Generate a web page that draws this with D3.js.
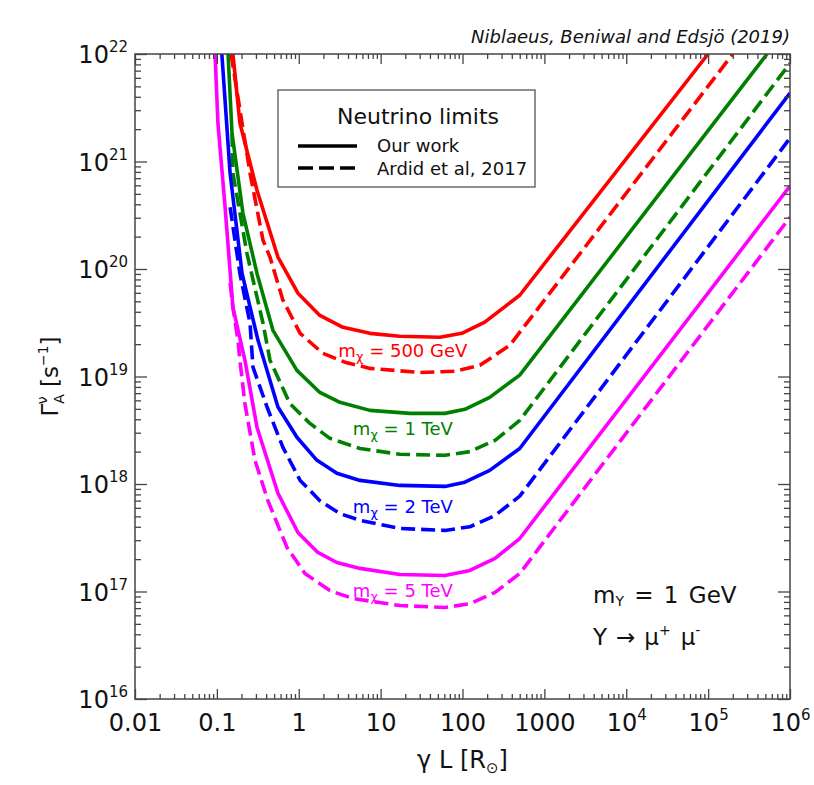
<!DOCTYPE html>
<html><head><meta charset="utf-8">
<script src="https://cdn.jsdelivr.net/npm/d3@7"></script>
<style>
body{margin:0;background:#fff}
svg{display:block}
text{font-family:"DejaVu Sans",Verdana,sans-serif;fill:#111}
</style>
</head><body>
<svg id="chart" width="814" height="785"></svg>
<script>
// ---------------- data ----------------
const xMajorTicks = [1e-2, 1e-1, 1, 10, 100, 1000, 1e4, 1e5, 1e6];
const xTickLabels = ["0.01", "0.1", "1", "10", "100", "1000", "10|4", "10|5", "10|6"];
const yMajorTicks = [1e16, 1e17, 1e18, 1e19, 1e20, 1e21, 1e22];
const yTickLabels = ["10|16", "10|17", "10|18", "10|19", "10|20", "10|21", "10|22"];

// [gamma L (R_sun), Gamma_A (s^-1)]
const redSolid = [[0.157,1e22],[0.191,2.28e21],[0.309,5.4e20],[0.557,1.29e20],[0.977,5.96e19],[1.81,3.7e19],[3.47,2.87e19],[7.4,2.52e19],[17,2.37e19],[53,2.32e19],[98,2.52e19],[187,3.2e19],[500,5.7e19],[1e5,1e22]];
const redDashed = [[0.149,1e22],[0.254,7.8e20],[0.366,1.85e20],[0.445,1.29e20],[0.641,5.13e19],[1.04,2.52e19],[1.97,1.64e19],[3.66,1.36e19],[7.4,1.19e19],[30,1.09e19],[81,1.12e19],[163,1.27e19],[378,1.95e19],[2e5,1e22]];
const greenSolid = [[0.137,1e22],[0.153,1.84e21],[0.208,3.31e20],[0.309,9.1e19],[0.484,2.69e19],[0.95,1.14e19],[1.81,7.1e18],[3.18,5.75e18],[7.4,4.84e18],[22.8,4.54e18],[61,4.54e18],[107,4.95e18],[215,6.4e18],[500,1.03e19],[5.25e5,1e22]];
const greenDashed = [[0.153,1.84e21],[0.157,7.8e20],[0.233,1.4e20],[0.366,3.13e19],[0.445,1.42e19],[0.78,5.6e18],[1.37,3.66e18],[2.4,2.66e18],[5.6,2.14e18],[17.2,1.89e18],[61,1.85e18],[123,2.0e18],[250,2.55e18],[500,3.9e18],[1e6,8.2e21]];
const blueSolid = [[0.115,1e22],[0.145,7.8e20],[0.203,9.1e19],[0.318,2.17e19],[0.557,5.2e18],[0.95,2.72e18],[1.67,1.66e18],[2.92,1.26e18],[5.6,1.08e18],[17.2,9.7e17],[61,9.5e17],[107,1.04e18],[215,1.34e18],[500,2.14e18],[1e6,4.34e21]];
const blueDashed = [[0.145,3.76e20],[0.191,9.1e19],[0.254,3.13e19],[0.276,1.22e19],[0.41,5.2e18],[0.641,2.19e18],[1.04,1.08e18],[1.81,7.0e17],[3.18,5.3e17],[5.6,4.6e17],[17.2,3.86e17],[61,3.7e17],[123,4.0e17],[250,5.1e17],[500,7.7e17],[1e6,1.65e21]];
const magentaSolid = [[0.095,1e22],[0.103,2.28e21],[0.126,3.76e20],[0.157,4.4e19],[0.22,1.42e19],[0.309,3.37e18],[0.557,8.2e17],[0.977,3.54e17],[1.71,2.31e17],[2.92,1.86e17],[5.6,1.64e17],[17.2,1.44e17],[61,1.41e17],[123,1.57e17],[250,2.03e17],[500,3.11e17],[1e6,5.9e20]];
const magentaDashed = [[0.145,7.4e19],[0.157,4.4e19],[0.181,2.17e19],[0.191,1.42e19],[0.22,5.6e18],[0.292,1.66e18],[0.42,7.0e17],[0.718,2.57e17],[1.19,1.47e17],[2.4,1.02e17],[4.6,8.6e16],[17.2,7.4e16],[61,7.1e16],[123,7.7e16],[250,9.8e16],[500,1.47e17],[1e6,3.03e20]];

const massLabels = ["500 GeV", "1 TeV", "2 TeV", "5 TeV"];
const massColors = ["#ff0000", "#008000", "#0000ff", "#ff00ff"];
const labelAnchors = [[18.7, 1.51e19], [18.7, 2.84e18], [18.7, 5.32e17], [18.7, 8.8e16]];

const series = [
  {data: redSolid, color: massColors[0], dashed: false},
  {data: redDashed, color: massColors[0], dashed: true},
  {data: greenSolid, color: massColors[1], dashed: false},
  {data: greenDashed, color: massColors[1], dashed: true},
  {data: blueSolid, color: massColors[2], dashed: false},
  {data: blueDashed, color: massColors[2], dashed: true},
  {data: magentaSolid, color: massColors[3], dashed: false},
  {data: magentaDashed, color: massColors[3], dashed: true}
];

// ---------------- layout ----------------
const svg = d3.select("#chart");
const L = 135, R = 790, T = 54, B = 699;
const x = d3.scaleLog().domain([1e-2, 1e6]).range([L, R]);
const y = d3.scaleLog().domain([1e16, 1e22]).range([B, T]);
const axisColor = "#444";

function minors(lo, hi) {
  const out = [];
  for (let k = lo; k < hi; k++) for (let m = 2; m <= 9; m++) out.push(m * Math.pow(10, k));
  return out;
}
const xMinor = minors(-2, 6);
const yMinor = minors(16, 22);

svg.append("defs").append("clipPath").attr("id", "clip")
  .append("rect").attr("x", L).attr("y", T).attr("width", R - L).attr("height", B - T);

// curves
const line = d3.line().x(d => x(d[0])).y(d => y(d[1]));
svg.append("g").attr("clip-path", "url(#clip)")
  .selectAll("path").data(series).join("path")
  .attr("d", d => line(d.data))
  .attr("fill", "none")
  .attr("stroke", d => d.color)
  .attr("stroke-width", 3.6)
  .attr("stroke-linejoin", "round")
  .attr("stroke-dasharray", d => d.dashed ? "14,6" : null);

// axes
function styleAxis(g) {
  g.select(".domain").remove();
  g.selectAll(".tick line").attr("stroke", axisColor).attr("stroke-width", 1.3);
}
svg.append("g").attr("transform", `translate(0,${B})`)
  .call(d3.axisBottom(x).tickValues(xMinor).tickSize(-5).tickFormat(() => "")).call(styleAxis);
svg.append("g").attr("transform", `translate(0,${T})`)
  .call(d3.axisTop(x).tickValues(xMinor).tickSize(-5).tickFormat(() => "")).call(styleAxis);
svg.append("g").attr("transform", `translate(0,${T})`)
  .call(d3.axisTop(x).tickValues(xMajorTicks).tickSize(-10).tickFormat(() => "")).call(styleAxis);
svg.append("g").attr("transform", `translate(${L},0)`)
  .call(d3.axisLeft(y).tickValues(yMinor).tickSize(-6).tickFormat(() => "")).call(styleAxis);
svg.append("g").attr("transform", `translate(${R},0)`)
  .call(d3.axisRight(y).tickValues(yMinor).tickSize(-6).tickFormat(() => "")).call(styleAxis);
svg.append("g").attr("transform", `translate(${R},0)`)
  .call(d3.axisRight(y).tickValues(yMajorTicks).tickSize(-12).tickFormat(() => "")).call(styleAxis);

function supLabel(sel, lab, supSize, supDy) {
  sel.text(null);
  const parts = lab.split("|");
  sel.append("tspan").text(parts[0]);
  if (parts[1]) sel.append("tspan").attr("dy", supDy).style("font-size", supSize).text(parts[1]);
}

const gx = svg.append("g").attr("transform", `translate(0,${B})`)
  .call(d3.axisBottom(x).tickValues(xMajorTicks).tickSize(-10).tickPadding(15)
    .tickFormat((d, i) => xTickLabels[i]));
styleAxis(gx);
gx.selectAll(".tick text").style("font-size", "24px").attr("fill", "#111").attr("dy", "0.71em")
  .each(function(d, i) { supLabel(d3.select(this), xTickLabels[i], "15px", -11); });

const gy = svg.append("g").attr("transform", `translate(${L},0)`)
  .call(d3.axisLeft(y).tickValues(yMajorTicks).tickSize(-12).tickPadding(7)
    .tickFormat((d, i) => yTickLabels[i]));
styleAxis(gy);
gy.selectAll(".tick text").style("font-size", "24px").attr("fill", "#111").attr("dy", "0.36em")
  .each(function(d, i) { supLabel(d3.select(this), yTickLabels[i], "15px", -11); });

// frame
svg.append("rect").attr("x", L).attr("y", T).attr("width", R - L).attr("height", B - T)
  .attr("fill", "none").attr("stroke", axisColor).attr("stroke-width", 1.5);

// axis titles
const xt = svg.append("text").attr("x", (L + R) / 2).attr("y", 768).attr("text-anchor", "middle").style("font-size", "24px");
xt.append("tspan").text("γ L [R");
xt.append("tspan").attr("dy", 5).style("font-size", "15px").text("⊙");
xt.append("tspan").attr("dy", -5).text("]");

const yt = svg.append("text").attr("transform", `translate(58,${(T + B) / 2}) rotate(-90)`)
  .attr("text-anchor", "middle").style("font-size", "23px");
yt.append("tspan").text("Γ");
yt.append("tspan").attr("dy", 6).style("font-size", "14px").text("A");
yt.append("tspan").attr("dx", -10).attr("dy", -17).style("font-size", "14px").text("ν");
yt.append("tspan").attr("dx", 2).attr("dy", 11).text(" [s");
yt.append("tspan").attr("dy", -10).style("font-size", "14px").text("−1");
yt.append("tspan").attr("dy", 10).text("]");

// top-right credit
svg.append("text").attr("x", R).attr("y", 43).attr("text-anchor", "end")
  .style("font-size", "18px").style("font-style", "italic").text("Niblaeus, Beniwal and Edsjö (2019)");

// legend
const lg = svg.append("g");
lg.append("rect").attr("x", 278).attr("y", 90).attr("width", 257).attr("height", 97)
  .attr("fill", "#fff").attr("stroke", "#555").attr("stroke-width", 1.3);
lg.append("text").attr("x", 418).attr("y", 124).attr("text-anchor", "middle").style("font-size", "22px").text("Neutrino limits");
lg.append("line").attr("x1", 298).attr("x2", 357).attr("y1", 146).attr("y2", 146).attr("stroke", "#000").attr("stroke-width", 3.6);
lg.append("line").attr("x1", 298).attr("x2", 357).attr("y1", 168).attr("y2", 168).attr("stroke", "#000").attr("stroke-width", 3.6).attr("stroke-dasharray", "15,6");
lg.append("text").attr("x", 377).attr("y", 152).style("font-size", "18px").text("Our work");
lg.append("text").attr("x", 377).attr("y", 175).style("font-size", "18px").text("Ardid et al, 2017");

// curve labels
massLabels.forEach((m, i) => {
  const t = svg.append("text").attr("x", x(labelAnchors[i][0])).attr("y", y(labelAnchors[i][1]))
    .attr("text-anchor", "middle").style("font-size", "18px").style("fill", massColors[i]);
  t.append("tspan").text("m");
  t.append("tspan").attr("dy", 4).style("font-size", "13px").text("χ");
  t.append("tspan").attr("dy", -4).text(" = " + m);
});

// annotation
const a1 = svg.append("text").attr("x", 593).attr("y", 603).style("font-size", "23px").style("word-spacing", "3px");
a1.append("tspan").text("m");
a1.append("tspan").attr("dy", 3).style("font-size", "14px").text("Y");
a1.append("tspan").attr("dy", -3).text(" = 1 GeV");
const a2 = svg.append("text").attr("x", 593).attr("y", 645).style("font-size", "23px");
a2.append("tspan").text("Y");
a2.append("tspan").attr("dx", 9).text("→");
a2.append("tspan").attr("dx", 9).text("μ");
a2.append("tspan").attr("dy", -10).style("font-size", "14px").text("+");
a2.append("tspan").attr("dx", 10).attr("dy", 10).text("μ");
a2.append("tspan").attr("dy", -10).style("font-size", "14px").text("-");
</script>
</body></html>
